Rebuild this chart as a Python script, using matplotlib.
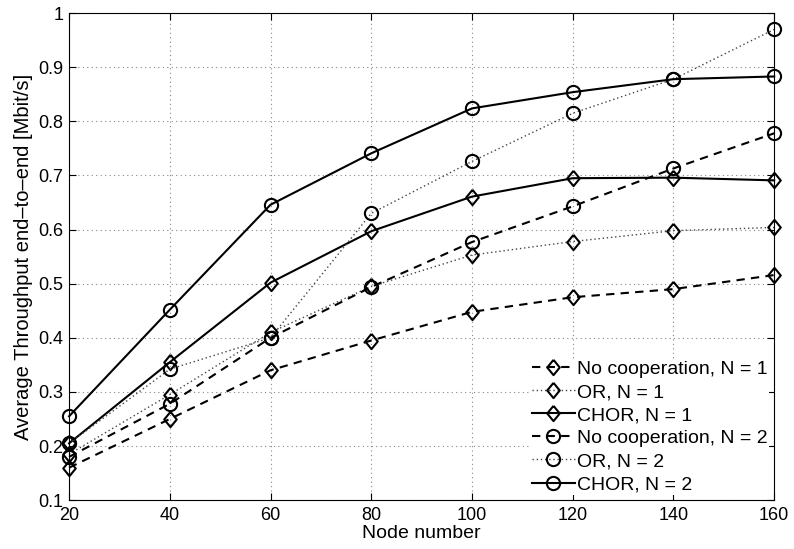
import matplotlib
matplotlib.use("Agg")
import matplotlib.pyplot as plt

plt.rcParams["font.family"] = ["Liberation Sans", "DejaVu Sans"]

nodes = [20, 40, 60, 80, 100, 120, 140, 160]

nocoop_n1 = [0.160, 0.250, 0.340, 0.395, 0.448, 0.475, 0.490, 0.516]
or_n1 = [0.185, 0.295, 0.410, 0.495, 0.553, 0.578, 0.598, 0.604]
chor_n1 = [0.205, 0.355, 0.502, 0.597, 0.661, 0.695, 0.696, 0.691]
nocoop_n2 = [0.180, 0.278, 0.400, 0.494, 0.577, 0.643, 0.713, 0.778]
or_n2 = [0.205, 0.342, 0.400, 0.630, 0.726, 0.815, 0.878, 0.970]
chor_n2 = [0.255, 0.452, 0.646, 0.741, 0.824, 0.854, 0.878, 0.883]

labels = ["No cooperation, N = 1", "OR, N = 1", "CHOR, N = 1",
          "No cooperation, N = 2", "OR, N = 2", "CHOR, N = 2"]

# MATLAB-like diamond (a bit taller than wide)
diamond = [(0, 1), (0.82, 0), (0, -1), (-0.82, 0), (0, 1)]

fig, ax = plt.subplots(figsize=(7.94, 5.49), dpi=100)
fig.subplots_adjust(left=0.087, right=0.975, top=0.976, bottom=0.089)

dm = dict(marker=diamond, markersize=11, markerfacecolor="none",
          markeredgecolor="black", markeredgewidth=1.5, clip_on=False)
cm = dict(marker="o", markersize=9.5, markerfacecolor="none",
          markeredgecolor="black", markeredgewidth=1.5, clip_on=False)

ax.plot(nodes, nocoop_n1, color="k", ls=(0, (4, 3)), lw=1.5, label=labels[0], **dm)
ax.plot(nodes, or_n1, color="#444444", ls=(0, (1, 2)), lw=1.0, label=labels[1], **dm)
ax.plot(nodes, chor_n1, color="k", ls="-", lw=1.5, label=labels[2], **dm)
ax.plot(nodes, nocoop_n2, color="k", ls=(0, (4, 3)), lw=1.5, label=labels[3], **cm)
ax.plot(nodes, or_n2, color="#444444", ls=(0, (1, 2)), lw=1.0, label=labels[4], **cm)
ax.plot(nodes, chor_n2, color="k", ls="-", lw=1.5, label=labels[5], **cm)

ax.set_xlim(20, 160)
ax.set_ylim(0.1, 1.0)
ax.set_xticks(nodes)
ax.set_yticks([0.1, 0.2, 0.3, 0.4, 0.5, 0.6, 0.7, 0.8, 0.9, 1.0])
ax.set_yticklabels(["0.1", "0.2", "0.3", "0.4", "0.5", "0.6", "0.7", "0.8", "0.9", "1"])
ax.tick_params(direction="in", labelsize=13, top=True, right=True, length=5)
ax.tick_params(axis="x", pad=5)
ax.tick_params(axis="y", pad=4)
ax.grid(True, linestyle=(0, (1, 3)), color="#888888", linewidth=0.8)

ax.set_xlabel("Node number", fontsize=14, labelpad=1)
ax.set_ylabel("Average Throughput end\u2013to\u2013end [Mbit/s]", fontsize=14.5, labelpad=4)

leg = ax.legend(loc="lower right", fontsize=14, frameon=True, fancybox=False,
                handlelength=2.2, handletextpad=0.1, labelspacing=0.28,
                borderaxespad=0.25, borderpad=0.1)
leg.get_frame().set_edgecolor("none")
leg.get_frame().set_facecolor("white")
leg.get_frame().set_alpha(1.0)

fig.savefig("out.png", dpi=100)
